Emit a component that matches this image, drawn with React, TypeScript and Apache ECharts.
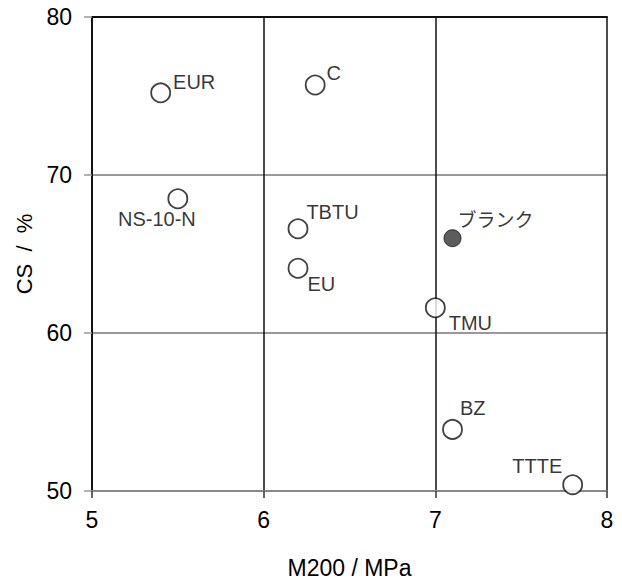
import React, { useEffect, useRef } from "react";
import * as echarts from "echarts";

const names = ["EUR", "C", "NS-10-N", "TBTU", "EU", "TMU", "BZ", "TTTE"];
const xValues = [5.4, 6.3, 5.5, 6.2, 6.2, 7.0, 7.1, 7.8];
const yValues = [75.2, 75.7, 68.5, 66.6, 64.1, 61.6, 53.9, 50.4];
const blankName = ["ブランク"];
const blankX = [7.1];
const blankY = [66.0];

const FONT = "Liberation Sans, Arial, sans-serif";

const labelCfg: Record<string, any> = {
  EUR: { position: "right", offset: [-3, -11] },
  C: { position: "right", offset: [-4, -12] },
  "NS-10-N": { position: "bottom", offset: [-21, -5] },
  TBTU: { position: "right", offset: [-7, -17] },
  EU: { position: "right", offset: [-6, 16] },
  TMU: { position: "right", offset: [-2, 15] },
  BZ: { position: "right", offset: [-8, -21] },
  TTTE: { position: "left", offset: [5, -19] },
};

export default function App() {
  const ref = useRef<HTMLDivElement>(null);
  useEffect(() => {
    const chart = echarts.init(ref.current!, null, { renderer: "svg" });
    const openData = names.map((n, i) => ({
      name: n,
      value: [xValues[i], yValues[i]],
      label: { show: true, formatter: n, ...labelCfg[n] },
    }));
    const blankData = blankName.map((n, i) => ({
      name: n,
      value: [blankX[i], blankY[i]],
      label: { show: true, formatter: n, position: "right", offset: [-9, -20] },
    }));
    chart.setOption({
      animation: false,
      backgroundColor: "#ffffff",
      grid: { left: 92, right: 15, top: 17, bottom: 91 },
      xAxis: [
        {
          type: "value",
          min: 5,
          max: 8,
          interval: 1,
          name: "M200 / MPa",
          nameLocation: "middle",
          nameGap: 65,
          nameTextStyle: { fontFamily: FONT, fontSize: 23, color: "#000" },
          axisLine: { show: true, lineStyle: { color: "#888", width: 2 } },
          axisTick: { show: true, inside: false, length: 7, lineStyle: { color: "#333", width: 1.5 } },
          axisLabel: { fontFamily: FONT, fontSize: 23, color: "#000", margin: 17 },
          splitLine: { show: true, lineStyle: { color: "#111", width: 1.5 } },
        },
        {
          type: "value",
          position: "top",
          min: 5,
          max: 8,
          interval: 1,
          axisLine: { show: true, lineStyle: { color: "#111", width: 2 } },
          axisTick: { show: false },
          axisLabel: { show: false },
          splitLine: { show: false },
        },
      ],
      yAxis: {
        type: "value",
        min: 50,
        max: 80,
        interval: 10,
        name: "CS  /  %",
        nameLocation: "middle",
        nameGap: 53,
        nameTextStyle: { fontFamily: FONT, fontSize: 22, color: "#000" },
        axisLine: { show: true, lineStyle: { color: "#111", width: 2 } },
        axisTick: { show: true, inside: false, length: 8, lineStyle: { color: "#999", width: 1.5 } },
        axisLabel: { fontFamily: FONT, fontSize: 23, color: "#000", margin: 20 },
        splitLine: { show: true, lineStyle: { color: "#999", width: 2 } },
      },
      series: [
        {
          type: "scatter",
          symbol: "circle",
          symbolSize: 19,
          itemStyle: { color: "#fff", borderColor: "#111", borderWidth: 1.8 },
          label: { fontFamily: FONT, fontSize: 20, color: "#000" },
          data: openData,
          z: 3,
        },
        {
          type: "scatter",
          symbol: "circle",
          symbolSize: 17,
          itemStyle: { color: "#333", borderColor: "#111", borderWidth: 1 },
          label: { fontFamily: "Noto Sans CJK JP, sans-serif", fontSize: 19, color: "#000" },
          data: blankData,
          z: 3,
        },
      ],
    });
    return () => chart.dispose();
  }, []);
  return <div ref={ref} style={{ width: 622, height: 584, position: "absolute", left: 0, top: 0 }} />;
}
